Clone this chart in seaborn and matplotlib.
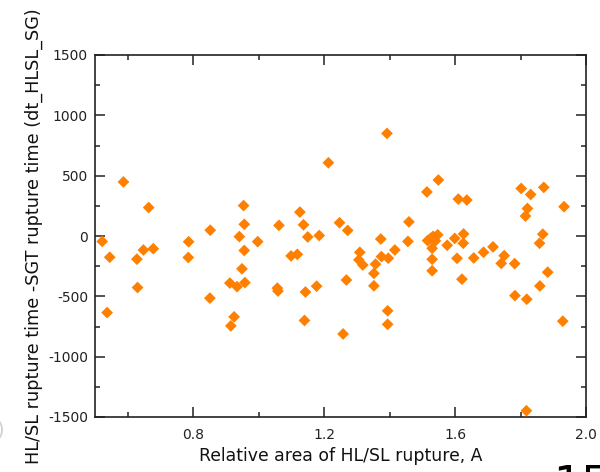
import matplotlib
matplotlib.use("Agg")
import matplotlib.pyplot as plt
from matplotlib.ticker import MultipleLocator
import seaborn as sns
import pandas as pd

# Relative area of the HL/SL rupture
area = [
    0.522, 0.545, 0.537, 0.587, 0.628, 0.630, 0.648, 0.664, 0.678,
    0.786, 0.785, 0.852, 0.851,
    0.912, 0.915, 0.925, 0.934, 0.941, 0.949, 0.954, 0.956, 0.956, 0.958, 0.997,
    1.062, 1.057, 1.059, 1.099, 1.118, 1.126, 1.137, 1.143, 1.140, 1.150, 1.177, 1.185,
    1.213, 1.247, 1.258, 1.272, 1.268,
    1.309, 1.306, 1.318,
    1.357, 1.352, 1.352, 1.373, 1.375, 1.396, 1.392, 1.394, 1.394, 1.416, 1.456, 1.459,
    1.514, 1.549, 1.516, 1.525, 1.533, 1.540, 1.547, 1.530, 1.530, 1.530,
    1.576, 1.599, 1.606, 1.610, 1.636, 1.626, 1.625, 1.621, 1.657, 1.687, 1.716,
    1.750, 1.741, 1.782, 1.783, 1.802, 1.821, 1.815, 1.831, 1.819, 1.871, 1.868,
    1.858, 1.859, 1.883, 1.933, 1.929, 1.818,
]

# HL/SL rupture time minus SGT rupture time
dt = [
    -45, -176, -635, 448, -192, -427, -116, 236, -105,
    -48, -178, 48, -515,
    -390, -745, -670, -420, -5, -272, 252, 97, -120, -386, -47,
    88, -432, -456, -165, -152, 198, 93, -464, -700, -8, -416, 4,
    607, 110, -812, 46, -365,
    -135, -198, -240,
    -233, -310, -413, -25, -171, -184, 850, -620, -732, -116, -45, 117,
    365, 464, -38, -20, -3, -40, 10, -102, -193, -288,
    -77, -20, -185, 306, 298, 17, -60, -358, -182, -135, -90,
    -163, -227, -229, -494, 394, 228, 165, 344, -524, 403, 15,
    -60, -414, -300, 243, -706, -1448,
]

x_ticks = [0.8, 1.2, 1.6, 2.0]
y_ticks = [-1500, -1000, -500, 0, 500, 1000, 1500]

df = pd.DataFrame({"area": area, "dt": dt})

sns.set_theme(style="ticks")
plt.rcParams["font.family"] = ["DejaVu Sans"]

fig = plt.figure(figsize=(6.0, 4.72), dpi=100)
ax = fig.add_axes([95 / 600, 1 - 417 / 472, 491 / 600, 362 / 472])

sns.scatterplot(data=df, x="area", y="dt", marker="D", s=36,
                color="#FF8000", edgecolor="none", linewidth=0, ax=ax, zorder=3)

ax.set_xlim(0.5, 2.0)
ax.set_ylim(-1500, 1500)
ax.set_xticks(x_ticks)
ax.set_xticklabels([f"{v:.1f}" for v in x_ticks])
ax.set_yticks(y_ticks)
ax.set_yticklabels([str(v) for v in y_ticks])
ax.xaxis.set_minor_locator(MultipleLocator(0.2))
ax.yaxis.set_minor_locator(MultipleLocator(250))

ax.tick_params(which="both", direction="in", top=True, right=True,
               color="#222222", width=1.1)
ax.tick_params(which="major", length=7, labelsize=10, labelcolor="#222222")
ax.tick_params(which="minor", length=3.5)
ax.tick_params(axis="x", which="major", pad=8)
ax.tick_params(axis="y", which="major", pad=5)

for sp in ax.spines.values():
    sp.set_color("#222222")
    sp.set_linewidth(1.2)

ax.set_xlabel("Relative area of HL/SL rupture, A", fontsize=12.4, color="#111111")
ax.set_ylabel("HL/SL rupture time -SGT rupture time (dt_HLSL_SG)",
              fontsize=12.7, color="#111111")
ax.xaxis.set_label_coords(0.5, -0.083)
ax.yaxis.set_label_coords(-0.106, 0.5)

# Page-number fragment at the lower right and a faint bracket at the left edge
fig.text(553 / 600, 1 - 463 / 472, "15", fontsize=32, color="black",
         ha="left", va="top")
fig.text(-4 / 600, 1 - 430 / 472, ")", fontsize=14, color="#d0d0d0",
         ha="left", va="center")

fig.savefig("out.png", dpi=100)
